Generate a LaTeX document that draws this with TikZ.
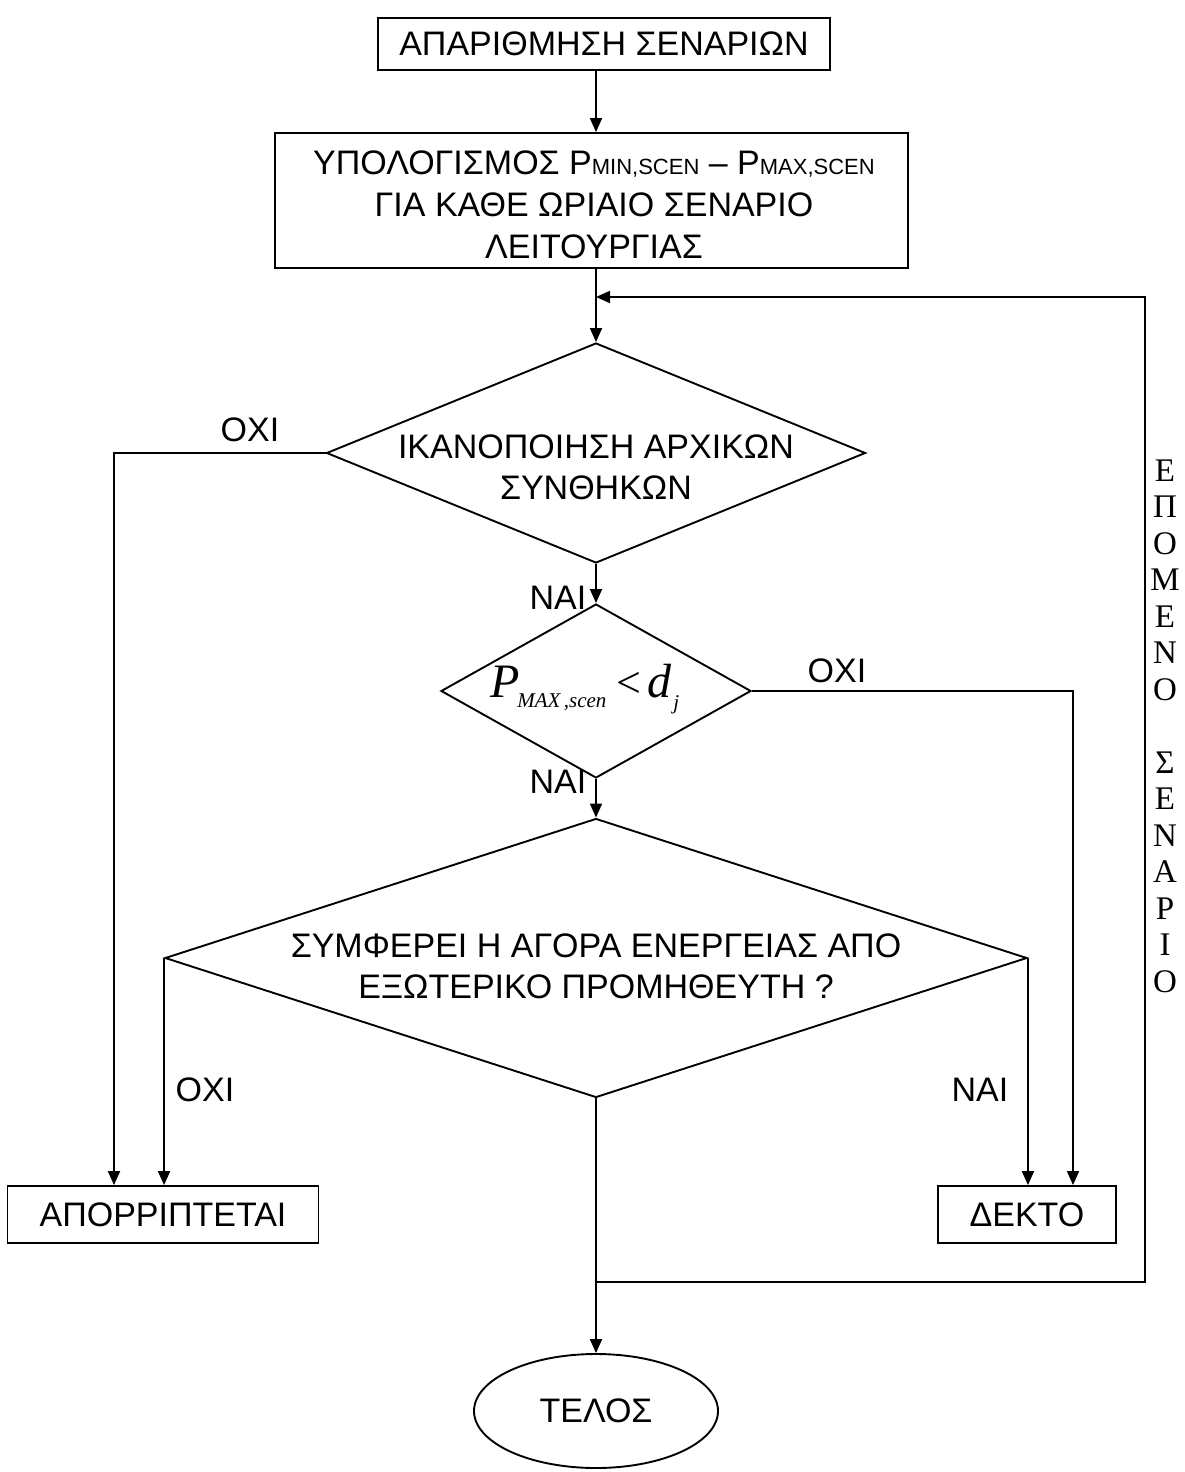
\documentclass[tikz,border=0pt]{standalone}
\usepackage{fontspec}
\setmainfont{Liberation Sans}
\newfontfamily\timesgr{Liberation Serif}
\usetikzlibrary{shapes.geometric,arrows.meta}
\newcommand{\smallcap}[1]{{\fontsize{22}{22}\selectfont #1}}
\begin{document}
\begin{tikzpicture}[x=1pt,y=-1pt,
  line width=1.9pt,
  box/.style={draw,rectangle,inner sep=0pt,align=center,font=\fontsize{34}{42}\selectfont},
  decision/.style={draw,diamond,inner sep=0pt},
  txt/.style={inner sep=0pt,align=center,font=\fontsize{34}{41}\selectfont},
  flow/.style={-{Triangle[length=14pt,width=12pt]}},
]
\useasboundingbox (0,0) rectangle (1184,1472);
\fill[white] (0,0) rectangle (1184,1472);

% main vertical axis and loop corners
\coordinate (axis) at (596,0);
\coordinate (rejL) at (114,0);
\coordinate (accR) at (1073,0);
\coordinate (loopR) at (1145,0);
\coordinate (loopin) at (596,297);
\coordinate (loopout) at (596,1282);

% process boxes
\node[box,minimum width=452,minimum height=52] (start) at (604,44) {ΑΠΑΡΙΘΜΗΣΗ ΣΕΝΑΡΙΩΝ};
\node[box,minimum width=633,minimum height=135] (calc) at (591.5,200.5) {};
\node[txt,font=\fontsize{34}{42}\selectfont] (calctxt) at (594,205)
  {ΥΠΟΛΟΓΙΣΜΟΣ P\smallcap{MIN,SCEN} -- P\smallcap{MAX,SCEN}\\ΓΙΑ ΚΑΘΕ ΩΡΙΑΙΟ ΣΕΝΑΡΙΟ\\ΛΕΙΤΟΥΡΓΙΑΣ};

% decisions
\node[decision,minimum width=539,minimum height=220] (d1) at (596,453) {};
\node[txt] (d1txt) at (596,467) {ΙΚΑΝΟΠΟΙΗΣΗ ΑΡΧΙΚΩΝ\\ΣΥΝΘΗΚΩΝ};

\node[decision,minimum width=310,minimum height=174] (d2) at (596,691) {};
\node[inner sep=0pt,anchor=base west] (d2txt) at (490,697)
  {\timesgr\itshape\fontsize{48}{48}\selectfont P\hspace{-3pt}\raisebox{-10pt}{\fontsize{21}{21}\selectfont MAX\,,scen}\hspace{10pt}{\upshape\fontsize{44}{44}\selectfont <}\hspace{6pt}d\raisebox{-12pt}{\hspace{2pt}\fontsize{21}{21}\selectfont j}};

\node[decision,minimum width=862,minimum height=279] (d3) at (596,958) {};
\node[txt] (d3txt) at (596,966) {ΣΥΜΦΕΡΕΙ Η ΑΓΟΡΑ ΕΝΕΡΓΕΙΑΣ ΑΠΟ\\ΕΞΩΤΕΡΙΚΟ ΠΡΟΜΗΘΕΥΤΗ ?};

% outcomes
\node[box,minimum width=311,minimum height=57] (rej) at (163,1214.5) {ΑΠΟΡΡΙΠΤΕΤΑΙ};
\node[box,minimum width=178,minimum height=57] (acc) at (1027,1214.5) {ΔΕΚΤΟ};
\node[draw,ellipse,minimum width=244,minimum height=114,inner sep=0pt,font=\fontsize{34}{41}\selectfont] (end) at (596,1411) {ΤΕΛΟΣ};

% branch labels
\node[txt] (no1) at (250,430) {ΟΧΙ};
\node[txt] (yes1) at (558,598) {ΝΑΙ};
\node[txt] (no2) at (837,671) {ΟΧΙ};
\node[txt] (yes2) at (558,782) {ΝΑΙ};
\node[txt] (no3) at (205,1090) {ΟΧΙ};
\node[txt] (yes3) at (980,1090) {ΝΑΙ};

% loop caption
\node[inner sep=0pt,align=center,font=\timesgr\fontsize{33}{36.5}\selectfont] (next) at (1165,726)
  {Ε\\Π\\Ο\\Μ\\Ε\\Ν\\Ο\\\mbox{}\\Σ\\Ε\\Ν\\Α\\Ρ\\Ι\\Ο};

% connectors
\draw[flow] (start.south -| axis) -- (calc.north -| axis);
\draw[flow] (calc.south -| axis) -- (d1.north);
\draw[flow] (d1.south) -- (d2.north);
\draw[flow] (d2.south) -- (d3.north);
\draw[flow] (d3.south) -- (end.north);
\draw[flow] (d1.west) -| (rej.north -| rejL);
\draw[flow] (d3.west) -- (d3.west |- rej.north);
\draw[flow] (d3.east) -- (d3.east |- acc.north);
\draw[flow] (d2.east) -| (acc.north -| accR);
\draw[flow] (loopout) -| (loopR |- loopin) -- (loopin);
\end{tikzpicture}
\end{document}
